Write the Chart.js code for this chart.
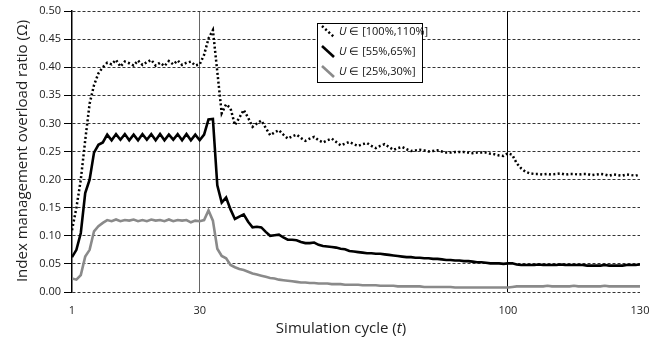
<!DOCTYPE html>
<html><head><meta charset="utf-8">
<script src="https://cdn.jsdelivr.net/npm/chart.js@4"></script>
<style>html,body{margin:0;padding:0;background:#fff}#wrap{width:651px;height:345px}</style>
</head><body><div id="wrap"><canvas id="c" width="651" height="345"></canvas></div>
<script>
// ---- data ----
const cycles = Array.from({length: 130}, (_, i) => i + 1);
const xTickValues = [1, 30, 100, 130];
const seriesNames = ["[100%,110%]", "[55%,65%]", "[25%,30%]"];

const high = [
  0.110,0.150,0.200,0.270,0.335,0.368,0.389,0.400,
  0.408,0.405,0.413,0.401,0.410,0.407,0.403,0.412,0.404,0.409,0.413,0.403,0.408,0.402,0.411,0.405,0.412,0.404,0.408,0.410,0.403,
  0.405,0.422,0.451,0.466,0.392,0.318,0.334,0.327,0.297,0.310,0.324,0.310,0.294,0.300,0.305,0.292,0.279,0.284,0.288,0.280,
  0.273,0.277,0.280,0.274,0.269,0.273,0.276,0.270,0.266,0.270,0.273,
  0.267,0.261,0.264,0.267,0.263,0.260,0.263,0.265,0.260,0.256,
  0.260,0.263,0.258,0.253,0.256,0.258,0.254,0.251,0.252,0.253,
  0.252,0.250,0.251,0.252,0.250,0.248,0.248,0.249,0.249,0.249,
  0.248,0.247,0.248,0.248,0.248,0.246,0.245,0.243,0.242,0.247,
  0.244,0.229,0.220,0.214,0.211,
  0.210,0.210,0.209,0.210,0.209,0.210,0.211,0.209,0.210,0.210,0.209,0.210,0.210,0.208,0.209,0.210,0.209,0.207,0.209,0.208,0.207,0.209,0.208,0.207,0.209
];

const mid = [
  0.062,0.075,0.105,0.176,0.200,0.248,0.262,0.266,
  0.280,0.270,0.281,0.271,0.281,0.270,0.280,0.270,0.281,0.271,0.281,0.270,0.281,0.270,0.280,0.271,0.281,0.270,0.281,0.270,0.280,
  0.270,0.280,0.307,0.308,0.190,0.159,0.168,0.147,0.130,0.134,0.138,0.125,0.115,0.116,0.115,0.107,0.100,0.101,0.102,0.097,
  0.093,0.093,0.092,0.089,0.087,0.087,0.088,0.084,0.082,0.081,0.080,
  0.079,0.077,0.076,0.073,0.072,0.071,0.070,0.069,0.069,0.068,
  0.068,0.067,0.066,0.065,0.064,0.063,0.062,0.062,0.061,0.061,
  0.060,0.060,0.059,0.059,0.058,0.057,0.057,0.056,0.056,0.055,
  0.055,0.054,0.053,0.053,0.052,0.051,0.051,0.051,0.050,0.051,
  0.051,0.049,0.048,0.048,0.048,
  0.048,0.049,0.048,0.048,0.048,0.048,0.049,0.048,0.048,0.048,0.048,0.048,0.047,0.047,0.047,0.047,0.048,0.047,0.047,0.047,0.047,0.048,0.048,0.048,0.049
];

const low = [
  0.024,0.022,0.030,0.063,0.075,0.108,0.117,0.123,
  0.128,0.126,0.129,0.126,0.128,0.127,0.129,0.126,0.128,0.126,0.129,0.127,0.128,0.126,0.129,0.126,0.128,0.127,0.128,0.124,0.127,
  0.126,0.128,0.145,0.127,0.077,0.064,0.060,0.048,0.044,0.041,0.039,0.036,0.033,0.031,0.029,0.027,0.025,0.024,0.022,0.021,
  0.020,0.019,0.018,0.017,0.017,0.016,0.016,0.015,0.015,0.015,0.014,
  0.014,0.014,0.013,0.013,0.013,0.013,0.012,0.012,0.012,0.012,
  0.011,0.011,0.011,0.011,0.010,0.010,0.010,0.010,0.010,0.010,
  0.009,0.009,0.009,0.009,0.009,0.009,0.009,0.008,0.008,0.008,
  0.008,0.008,0.008,0.008,0.008,0.008,0.008,0.008,0.008,0.008,
  0.009,0.010,0.010,0.010,0.010,
  0.010,0.010,0.010,0.011,0.010,0.010,0.010,0.010,0.010,0.011,0.010,0.010,0.010,0.010,0.010,0.010,0.011,0.010,0.010,0.010,0.010,0.010,0.010,0.010,0.010
];

const yTitle = "Index management overload ratio (\u03A9)";
const xTitleParts = ["Simulation cycle (", "t", ")"];

// ---- chart ----
const toPts = arr => arr.map((v, i) => ({x: cycles[i], y: v}));
const FONT = '"Open Sans", "Noto Sans", sans-serif';

const overlay = {
  id: 'overlay',
  afterDraw(chart) {
    const ctx = chart.ctx;
    // y title
    ctx.save();
    ctx.translate(23, 151);
    ctx.rotate(-Math.PI / 2);
    ctx.font = '15px ' + FONT;
    ctx.fillStyle = '#222';
    ctx.textAlign = 'center';
    ctx.textBaseline = 'middle';
    ctx.fillText(yTitle, 0, 0);
    ctx.restore();
    // x title
    ctx.save();
    ctx.textBaseline = 'middle';
    ctx.fillStyle = '#222';
    const fonts = ['15px ' + FONT, 'italic 15px ' + FONT, '15px ' + FONT];
    let widths = xTitleParts.map((t, i) => { ctx.font = fonts[i]; return ctx.measureText(t).width; });
    let total = widths.reduce((a, b) => a + b, 0);
    let x = 341 - total / 2;
    xTitleParts.forEach((t, i) => { ctx.font = fonts[i]; ctx.fillText(t, x, 329); x += widths[i]; });
    ctx.restore();
  },
  afterDatasetsDraw(chart) {
    const ctx = chart.ctx;
    ctx.save();
    ctx.fillStyle = '#fff';
    ctx.fillRect(317, 23, 105, 59);
    ctx.strokeStyle = '#000';
    ctx.lineWidth = 1;
    ctx.strokeRect(317.5, 23.5, 105, 59);
    const rows = [32, 52, 72];
    chart.data.datasets.forEach((ds, i) => {
      const y = rows[i];
      ctx.save();
      ctx.strokeStyle = ds.borderColor;
      ctx.lineWidth = ds.borderWidth;
      ctx.setLineDash(ds.borderDash || []);
      ctx.beginPath();
      ctx.moveTo(322, y - 6);
      ctx.lineTo(334, y + 5);
      ctx.stroke();
      ctx.restore();
      ctx.fillStyle = '#111';
      ctx.textBaseline = 'middle';
      ctx.font = 'italic 11px ' + FONT;
      ctx.fillText('U', 339, y);
      const w = ctx.measureText('U').width;
      ctx.font = '11px ' + FONT;
      ctx.fillText(' \u2208 ' + seriesNames[i], 339 + w, y);
    });
    ctx.restore();
  }
};

new Chart(document.getElementById('c'), {
  type: 'line',
  data: {
    datasets: [
      {label: 'U \u2208 ' + seriesNames[0], data: toPts(high), borderColor: '#000', borderWidth: 2.5, borderDash: [2, 2.4], borderCapStyle: 'butt', pointRadius: 0, tension: 0, fill: false},
      {label: 'U \u2208 ' + seriesNames[1], data: toPts(mid), borderColor: '#000', borderWidth: 2.6, pointRadius: 0, tension: 0, fill: false},
      {label: 'U \u2208 ' + seriesNames[2], data: toPts(low), borderColor: '#8a8a8a', borderWidth: 2.6, pointRadius: 0, tension: 0, fill: false}
    ]
  },
  options: {
    responsive: false,
    animation: false,
    devicePixelRatio: 1,
    layout: {padding: {top: 11, right: 0, left: 0, bottom: 0}},
    plugins: {legend: {display: false}, tooltip: {enabled: false}},
    scales: {
      x: {
        type: 'linear', min: 1, max: 130,
        afterBuildTicks: s => { s.ticks = xTickValues.map(v => ({value: v})); },
        afterFit: s => { s.height = 53; s.paddingRight = 11; s.paddingLeft = 0; },
        grid: {
          drawTicks: false, lineWidth: 1,
          color: c => (c.tick && c.tick.value === 30) ? '#666' : (c.tick && c.tick.value === 100) ? '#000' : 'rgba(0,0,0,0)'
        },
        border: {display: false},
        ticks: {padding: 12, autoSkip: false, maxRotation: 0, color: '#222', font: {family: FONT, size: 11}}
      },
      y: {
        min: 0, max: 0.5,
        afterFit: s => { s.width = 72; },
        ticks: {stepSize: 0.05, padding: 3, color: '#222', font: {family: FONT, size: 11}, callback: v => v.toFixed(2)},
        grid: {color: '#333', lineWidth: 1, tickLength: 8, tickColor: '#000', tickBorderDash: [], tickWidth: 1},
        border: {display: true, color: '#000', width: 1.5, dash: [3, 2]}
      }
    }
  },
  plugins: [overlay]
});
</script>
</body></html>
